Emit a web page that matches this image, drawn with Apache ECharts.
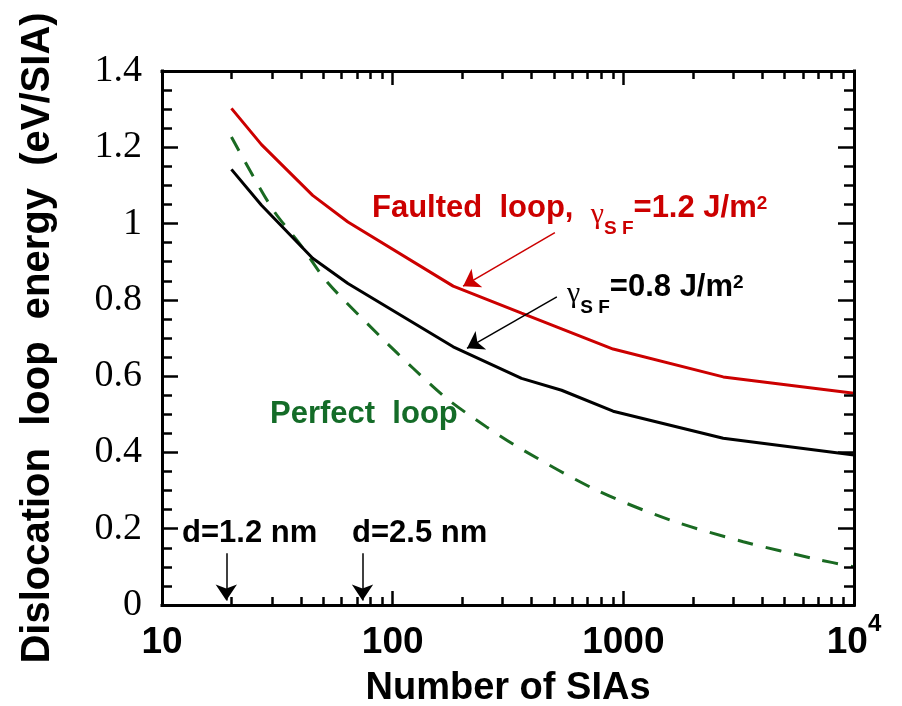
<!DOCTYPE html>
<html>
<head>
<meta charset="utf-8">
<script src="https://cdn.jsdelivr.net/npm/echarts@6/dist/echarts.min.js"></script>
<style>
  html, body { margin: 0; padding: 0; background: #fff; }
  #chart { width: 902px; height: 706px; }
</style>
</head>
<body>
<div id="chart"></div>
<script>
// loop sizes (number of SIAs) for the faulted loops
var nFaulted = [20, 27, 45, 64, 183, 362, 540, 903, 2710, 10000];
var faulted12 = [1.302, 1.207, 1.074, 1.004, 0.836, 0.765, 0.724, 0.671, 0.598, 0.555];
var faulted08 = [1.142, 1.048, 0.909, 0.843, 0.677, 0.594, 0.563, 0.508, 0.437, 0.393];

// perfect loop curve
var nPerfect = [20, 30, 40, 52, 88, 123, 171, 255, 368, 766, 1592, 3311, 6890, 10000];
var perfect = [1.227, 1.04, 0.943, 0.847, 0.705, 0.62, 0.542, 0.467, 0.406, 0.301, 0.223, 0.166, 0.12, 0.10];

// ticks
var xMin = 10, xMax = 10000, yMin = 0, yMax = 1.4;
var xMajor = [100, 1000];
var xMinor = [20, 30, 40, 50, 60, 70, 80, 90, 200, 300, 400, 500, 600, 700, 800, 900,
              2000, 3000, 4000, 5000, 6000, 7000, 8000, 9000];
var yMajor = [0.2, 0.4, 0.6, 0.8, 1.0, 1.2];
var yMinor = [0.05, 0.1, 0.15, 0.25, 0.3, 0.35, 0.45, 0.5, 0.55, 0.65, 0.7, 0.75,
              0.85, 0.9, 0.95, 1.05, 1.1, 1.15, 1.25, 1.3, 1.35];

// annotation arrows [from, to] in data units
var arrows = [
  {from: [505, 0.976], to: [202, 0.836], color: '#cc0000'},
  {from: [515, 0.808], to: [210, 0.673], color: '#000'},
  {from: [19, 0.136], to: [19, 0.012], color: '#000'},
  {from: [74, 0.136], to: [74, 0.012], color: '#000'}
];

function pairs(xs, ys) {
  return xs.map(function (x, i) { return [x, ys[i]]; });
}

var W = 902, H = 706;
var grid = {left: 162, right: 48, top: 71, bottom: 101};
var pxPerDecade = (W - grid.left - grid.right) / Math.log10(xMax / xMin);
var pxPerUnit = (H - grid.top - grid.bottom) / (yMax - yMin);

var sans = 'Liberation Sans';
var myChart = echarts.init(document.getElementById('chart'));

// frame and inward ticks, drawn as mark lines in data units
var frameStyle = {color: '#000', width: 3, type: 'solid', cap: 'square'};
var tickStyle = {color: '#000', width: 2.5, type: 'solid'};
function seg(a, b, st) {
  return [{coord: a, symbol: 'none', lineStyle: st}, {coord: b, symbol: 'none'}];
}
var frame = [
  seg([xMin, yMin], [xMax, yMin], frameStyle),
  seg([xMin, yMax], [xMax, yMax], frameStyle),
  seg([xMin, yMin], [xMin, yMax], frameStyle),
  seg([xMax, yMin], [xMax, yMax], frameStyle)
];
var ticks = [];
function yTicks(vals, len) {
  var k = Math.pow(10, len / pxPerDecade);
  vals.forEach(function (v) {
    ticks.push(seg([xMin, v], [xMin * k, v], tickStyle));
    ticks.push(seg([xMax, v], [xMax / k, v], tickStyle));
  });
}
function xTicks(vals, len) {
  var d = len / pxPerUnit;
  vals.forEach(function (v) {
    ticks.push(seg([v, yMin], [v, yMin + d], tickStyle));
    ticks.push(seg([v, yMax], [v, yMax - d], tickStyle));
  });
}
yTicks(yMajor, 16);
yTicks(yMinor, 10);
xTicks(xMajor, 14);
xTicks(xMinor, 8);

var arrowLines = arrows.map(function (a) {
  return [
    {coord: a.from, symbol: 'none', lineStyle: {color: a.color, width: 1.5, type: 'solid'}},
    {coord: a.to, symbol: 'arrow', symbolSize: 16}
  ];
});

function xAxisDef(pos) {
  return {
    type: 'log', logBase: 10, min: xMin, max: xMax, splitNumber: 3, position: pos,
    axisLine: {show: false, onZero: false},
    axisTick: {show: false},
    axisLabel: {show: false},
    splitLine: {show: false}
  };
}
var bottomAxis = xAxisDef('bottom');
bottomAxis.axisLabel = {
  show: true, margin: 10, color: '#000',
  fontFamily: sans, fontWeight: 'bold', fontSize: 37, lineHeight: 56,
  formatter: function (v) {
    v = Math.round(v);
    return v === 10000 ? '10{s|4}' : String(v);
  },
  rich: {
    s: {fontSize: 24, fontWeight: 'bold', fontFamily: sans, color: '#000',
        height: 18, lineHeight: 18, verticalAlign: 'top'}
  }
};
bottomAxis.name = 'Number of SIAs';
bottomAxis.nameLocation = 'middle';
bottomAxis.nameGap = 65;
bottomAxis.nameMoveOverlap = false;
bottomAxis.nameTextStyle = {color: '#000', fontFamily: sans, fontWeight: 'bold', fontSize: 38};

function yAxisDef(pos, labels) {
  return {
    type: 'value', min: yMin, max: yMax, interval: 0.2, position: pos,
    axisLine: {show: false, onZero: false},
    axisTick: {show: false},
    minorTick: {show: false},
    axisLabel: {show: labels, margin: 20, color: '#000', fontFamily: 'Liberation Serif', fontSize: 38},
    splitLine: {show: false},
    minorSplitLine: {show: false}
  };
}
var leftAxis = yAxisDef('left', true);
leftAxis.name = 'Dislocation  loop  energy  (eV/SIA)';
leftAxis.nameLocation = 'middle';
leftAxis.nameGap = 104;
leftAxis.nameTextStyle = {color: '#000', fontFamily: sans, fontWeight: 'bold', fontSize: 40};

// rich text pieces: gamma, subscript SF, value, superscript 2
function gammaRich(color) {
  return {
    a: {fontFamily: sans, fontWeight: 'bold', fontSize: 31, fill: color, lineHeight: 56},
    g: {fontFamily: 'Liberation Serif', fontSize: 30, fill: color, height: 41, lineHeight: 41, verticalAlign: 'bottom'},
    s: {fontFamily: sans, fontWeight: 'bold', fontSize: 19, fill: color, height: 15, lineHeight: 15, verticalAlign: 'bottom'},
    m: {fontFamily: sans, fontWeight: 'bold', fontSize: 31, fill: color, lineHeight: 56},
    p: {fontFamily: sans, fontWeight: 'bold', fontSize: 19, fill: color, height: 47, lineHeight: 47, verticalAlign: 'top'}
  };
}

var option = {
  backgroundColor: '#fff',
  animation: false,
  grid: {left: grid.left, right: grid.right, top: grid.top, bottom: grid.bottom, outerBoundsMode: 'none'},
  xAxis: [bottomAxis, xAxisDef('top')],
  yAxis: [leftAxis, yAxisDef('right', false)],
  graphic: [
    {type: 'text', x: 372, y: 208, style: {
      text: '{a|Faulted  loop,  }{g|γ}{s|S F}{m|=1.2 J/m}{p|2}',
      rich: gammaRich('#cc0000'), verticalAlign: 'middle', align: 'left'}},
    {type: 'text', x: 567, y: 287, style: {
      text: '{g|γ}{s|S F}{m|=0.8 J/m}{p|2}',
      rich: gammaRich('#000'), verticalAlign: 'middle', align: 'left'}},
    {type: 'text', x: 270, y: 414, style: {text: 'Perfect  loop', fill: '#146c28', fontFamily: sans,
      fontWeight: 'bold', fontSize: 31, verticalAlign: 'middle', align: 'left'}},
    {type: 'text', x: 182, y: 533, style: {text: 'd=1.2 nm', fill: '#000', fontFamily: sans,
      fontWeight: 'bold', fontSize: 31, verticalAlign: 'middle', align: 'left'}},
    {type: 'text', x: 352, y: 533, style: {text: 'd=2.5 nm', fill: '#000', fontFamily: sans,
      fontWeight: 'bold', fontSize: 31, verticalAlign: 'middle', align: 'left'}}
  ],
  series: [
    {
      name: 'Perfect loop', type: 'line',
      data: pairs(nPerfect, perfect),
      smooth: 0.3, showSymbol: false,
      lineStyle: {color: '#1a6a22', width: 3, type: [16, 13]}
    },
    {
      name: 'Faulted 1.2', type: 'line',
      data: pairs(nFaulted, faulted12),
      showSymbol: false,
      lineStyle: {color: '#cc0000', width: 3}
    },
    {
      name: 'Faulted 0.8', type: 'line',
      data: pairs(nFaulted, faulted08),
      showSymbol: false,
      clip: false,
      lineStyle: {color: '#000', width: 3},
      markLine: {
        silent: true,
        symbol: ['none', 'none'],
        label: {show: false},
        emphasis: {disabled: true},
        data: frame.concat(ticks, arrowLines)
      }
    }
  ]
};

myChart.setOption(option);
</script>
</body>
</html>
